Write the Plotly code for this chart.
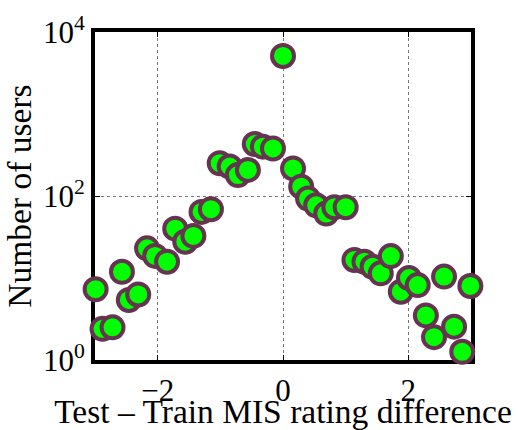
import plotly.graph_objects as go

# Test - Train MIS rating difference (x) and number of users (y)
diff = [-2.99, -2.88, -2.72, -2.57, -2.46, -2.31, -2.17, -2.04, -1.85, -1.72,
        -1.56, -1.43, -1.30, -1.15, -1.01, -0.85, -0.72, -0.56, -0.45, -0.32,
        -0.16, 0.0, 0.16, 0.29, 0.40, 0.53, 0.69, 0.82, 1.00,
        1.14, 1.30, 1.43, 1.56, 1.72, 1.88, 2.01, 2.15, 2.28, 2.41, 2.57,
        2.73, 2.86, 2.99]
users = [7.3, 2.4, 2.5, 11.9, 5.4, 6.3, 23, 18.6, 15.8, 40,
         27.7, 32.6, 64, 69, 251, 229, 180, 208, 430, 400,
         380, 5100, 217, 130, 93, 77, 61, 73, 73,
         16.6, 15.8, 13.7, 11.4, 18.5, 6.8, 10, 8.2, 3.5, 1.9, 10.4,
         2.55, 1.26, 8]

x_ticks = [-2, 0, 2]
x_tick_text = ["\u22122", "0", "2"]
y_ticks = [1, 100, 10000]
y_tick_text = ["10<sup>0</sup>", "10<sup>2</sup>", "10<sup>4</sup>"]

font_family = "Liberation Serif"

fig = go.Figure()
fig.add_trace(go.Scatter(
    x=diff, y=users, mode="markers", cliponaxis=False,
    marker=dict(size=22, color="#00ff00",
                line=dict(color="#663350", width=4)),
    showlegend=False,
))

axis_common = dict(
    showline=True, linecolor="black", linewidth=4, mirror="ticks",
    ticks="inside", ticklen=5, tickcolor="black", tickwidth=1,
    showgrid=True, gridcolor="#777777", griddash="dot", gridwidth=1,
    zeroline=False, layer="below traces",
    tickfont=dict(family=font_family, size=31, color="black"),
)

fig.update_xaxes(range=[-3, 3], tickvals=x_ticks, ticktext=x_tick_text,
                 ticklabelstandoff=0,
                 title=dict(text="Test \u2013 Train MIS rating difference",
                            font=dict(family=font_family, size=33.5, color="black"),
                            standoff=0),
                 **axis_common)
fig.update_yaxes(type="log", range=[0, 4], tickvals=y_ticks, ticktext=y_tick_text,
                 title=dict(text="Number of users",
                            font=dict(family=font_family, size=33.5, color="black"),
                            standoff=2),
                 **axis_common)

fig.update_layout(
    width=520, height=430,
    margin=dict(l=95, r=49, t=32, b=70, autoexpand=False),
    paper_bgcolor="white", plot_bgcolor="white",
    font=dict(family=font_family, color="black"),
)

fig.write_html("out.html")
